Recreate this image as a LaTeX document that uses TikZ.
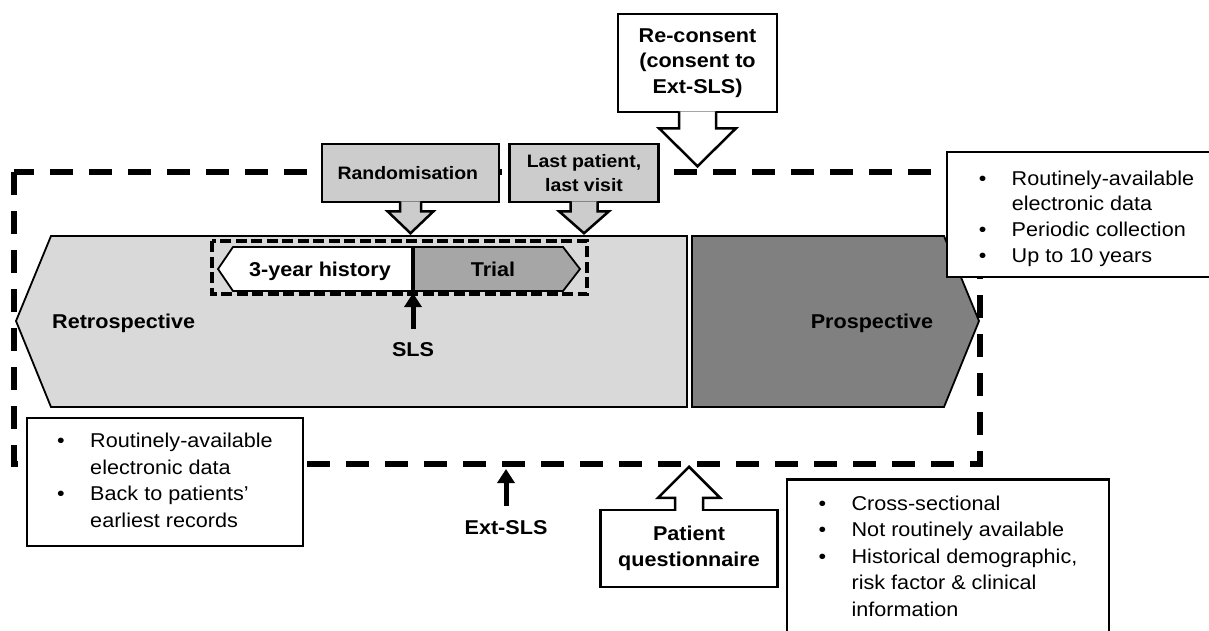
\documentclass[tikz,border=0pt]{standalone}
\usepackage{fontspec}
\setmainfont{Liberation Sans}[FakeStretch=1.08]
\usepackage{tikz}
\usetikzlibrary{calc,arrows.meta}
\definecolor{retro}{gray}{0.85}
\definecolor{callgray}{gray}{0.8}
\definecolor{trialgray}{gray}{0.65}
\definecolor{prosgray}{gray}{0.5}
\newcommand{\lblfont}{\fontsize{20}{25.5}\selectfont\bfseries}
\newcommand{\callfont}{\fontsize{18}{24}\selectfont\bfseries}
\newcommand{\bodyfont}{\fontsize{20}{26.5}\selectfont}
\newcommand{\bulitem}{\makebox[33pt][l]{\textbullet}}
% box node, fill, shaft half width, head half width, shaft length, head length
\newcommand{\calldown}[6]{%
  \draw[line width=2.5pt,fill=#2] ($(#1.south)+(-#3,-2)$) -- ++(0,#5+2) -- ++(#3-#4,0)
    -- ++(#4,#6) -- ++(#4,-#6) -- ++(#3-#4,0) -- ++(0,-#5-2);}
\newcommand{\callup}[6]{%
  \draw[line width=2.5pt,fill=#2] ($(#1.north)+(-#3,2)$) -- ++(0,-#5-2) -- ++(#3-#4,0)
    -- ++(#4,-#6) -- ++(#4,#6) -- ++(#3-#4,0) -- ++(0,#5+2);}

\begin{document}
\begin{tikzpicture}[x=1pt,y=-1pt,
    lbl/.style={font=\lblfont,inner sep=0pt},
    callbox/.style={draw,line width=2.5pt,inner sep=0pt,align=center},
    infobox/.style={draw,line width=2.5pt,fill=white,inner sep=0pt,font=\bodyfont},
    phase/.style={draw,line width=1.8pt},
    uparr/.style={line width=5pt,-{Triangle[length=14pt,width=17pt]},shorten <=14pt},
    extdash/.style={line width=6.5pt,dash pattern=on 23pt off 16pt},
    slsdash/.style={line width=4pt,dash pattern=on 11pt off 4.5pt}]
    \useasboundingbox (0,0) rectangle (1209,630);
    \clip (0,0) rectangle (1209,630);

    % retrospective and prospective phases
    \draw[phase,fill=retro] (16,321) -- (51,236) -- (687,236) -- (687,407) -- (51,407) -- cycle;
    \draw[phase,fill=prosgray] (692,236) -- (944,236) -- (979,321) -- (944,407) -- (692,407) -- cycle;
    \node [lbl,anchor=west] (1) at (52,323) {Retrospective};
    \node [lbl] (2) at (872,323) {Prospective};

    % history and trial
    \draw[phase,fill=white] (218,269) -- (233,247) -- (413,247) -- (413,291) -- (233,291) -- cycle;
    \draw[phase,fill=trialgray] (413,247) -- (563,247) -- (580,269) -- (563,291) -- (413,291) -- cycle;
    \draw[line width=3.5pt] (413,247) -- (413,291);
    \node [lbl] (3) at (320,271.5) {3-year history};
    \node [lbl] (4) at (493,269.5) {Trial};
    \draw[slsdash] (212,241) rectangle (587,294);

    % Ext-SLS window
    \draw[extdash] (14,172) rectangle (980,464);

    \node [lbl] (5) at (413,350) {SLS};
    \coordinate (6) at (413,293);
    \draw[uparr] (5) -- (6);
    \node [lbl] (7) at (506,527.5) {Ext-SLS};
    \coordinate (8) at (506,469);
    \draw[uparr] (7) -- (8);

    % callouts
    \node [callbox,fill=white,minimum width=159pt,minimum height=98pt,font=\lblfont] (9) at (697.5,63) {
      Re-consent\\(consent to\\Ext-SLS)
    };
    \calldown{9}{white}{18.5}{38.5}{15}{38}
    \node [callbox,fill=callgray,minimum width=177pt,minimum height=58pt,font=\callfont] (10) at (410.5,173) {
      Randomisation
    };
    \calldown{10}{callgray}{10.5}{23}{8}{22}
    \node [callbox,fill=callgray,minimum width=149pt,minimum height=58pt,font=\callfont] (11) at (584,173) {
      Last patient,\\last visit
    };
    \calldown{11}{callgray}{13.5}{25}{8}{22}
    \node [callbox,fill=white,minimum width=177pt,minimum height=77pt,font=\lblfont] (12) at (689,548.5) {
      Patient\\questionnaire
    };
    \callup{12}{white}{14}{31}{11}{31}

    % data boxes
    \node [infobox,minimum width=276pt,minimum height=128pt] (13) at (165,482) {
      \begin{tabular}{@{}l@{}l@{}}
        \bulitem & Routinely-available\\
                 & electronic data\\
        \bulitem & Back to patients’\\
                 & earliest records
      \end{tabular}
    };
    \node [infobox,minimum width=279pt,minimum height=125pt,font=\fontsize{20}{25.7}\selectfont] (14) at (1086.5,214.5) {
      \begin{tabular}{@{}l@{}l@{}}
        \rule{0pt}{26pt}\bulitem & Routinely-available\\
                 & electronic data\\
        \bulitem & Periodic collection\\
        \bulitem & Up to 10 years
      \end{tabular}
    };
    \node [infobox,minimum width=322pt,inner ysep=12.5pt,anchor=north] (15) at (948,478) {
      \begin{tabular}{@{}l@{}l@{}}
        \bulitem & Cross-sectional\\
        \bulitem & Not routinely available\\
        \bulitem & Historical demographic,\\
                 & risk factor \& clinical\\
                 & information
      \end{tabular}
    };
\end{tikzpicture}
\end{document}
